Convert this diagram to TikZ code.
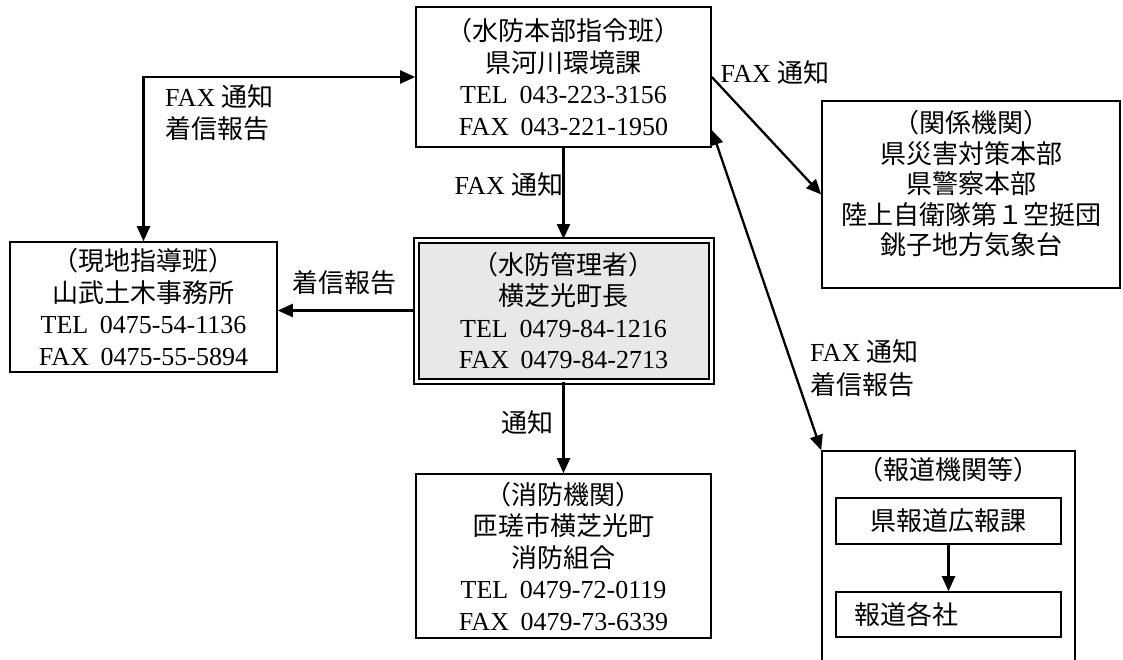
\documentclass[tikz,border=0pt]{standalone}
\usepackage{fontspec}
\setmainfont{Liberation Serif}
\newfontfamily\cjk{Noto Sans CJK JP}
\newcommand{\J}[1]{{\cjk #1}}
\newcommand{\tsp}{\hspace{0.45em}}
\usetikzlibrary{arrows.meta}
\begin{document}
\begin{tikzpicture}[x=1pt,y=-1pt,
  every node/.style={font=\fontsize{26pt}{31.5pt}\selectfont, inner sep=0pt},
  boxn/.style={draw, line width=1.6pt, align=center},
  arr/.style={line width=2.3pt, -{Triangle[length=15pt,width=13pt]}},
  darr/.style={line width=2.3pt, {Triangle[length=15pt,width=13pt]}-{Triangle[length=15pt,width=13pt]}},
  lbl/.style={align=left}]
\useasboundingbox (0,0) rectangle (1123,659);
\clip (0,0) rectangle (1123,659);

% top box
\node[boxn, minimum width=295pt, minimum height=140pt] (top) at (563.5,77)
  {\J{（水防本部指令班）}\\ \J{県河川環境課}\\ TEL\tsp 043-223-3156\\ FAX\tsp 043-221-1950};

% left box
\node[boxn, minimum width=267pt, minimum height=130pt] (left) at (143.5,307)
  {\J{（現地指導班）}\\ \J{山武土木事務所}\\ TEL\tsp 0475-54-1136\\ FAX\tsp 0475-55-5894};

% center double box
\node[draw, line width=2pt, double=white, double distance=3pt, fill=black!9,
      align=center, minimum width=295pt, minimum height=141pt] (center) at (563.5,310.5)
  {\J{（水防管理者）}\\ \J{横芝光町長}\\ TEL\tsp 0479-84-1216\\ FAX\tsp 0479-84-2713};

% bottom box
\node[boxn, minimum width=295pt, minimum height=164pt] (bottom) at (563.5,556)
  {\J{（消防機関）}\\ \J{匝瑳市横芝光町}\\ \J{消防組合}\\ TEL\tsp 0479-72-0119\\ FAX\tsp 0479-73-6339};

% kankei box
\node[boxn, minimum width=298pt, minimum height=187pt] (kankei) at (971,194.5) {};
\node[align=center, font=\fontsize{26pt}{30.5pt}\selectfont] (kankeit) at (971,184)
  {\J{（関係機関）}\\ \J{県災害対策本部}\\ \J{県警察本部}\\ \J{陸上自衛隊第１空挺団}\\ \J{銚子地方気象台}};

% hodo box
\node[boxn, minimum width=253pt, minimum height=260pt] (hodo) at (948.5,581) {};
\node (hodot) at (948,470) {\J{（報道機関等）}};
\node[boxn, minimum width=225pt, minimum height=46pt] (kenho) at (948.5,521) {\J{県報道広報課}};
\node[draw, line width=1.6pt, text width=189pt, align=left, inner xsep=18pt,
      minimum height=45pt] (kakusha) at (948.5,614.5) {\J{報道各社}};

% connectors
\draw[darr] (left.north) |- (top.west);
\draw[arr] (top.south) -- (center.north);
\draw[arr] (center.west) -- (center.west -| left.east);
\draw[arr] (center.south) -- (bottom.north);
\draw[arr] (top.east) -- (kankei.west);
\draw[darr] ([yshift=-53pt]top.east) -- (hodo.north west);
\draw[arr] (kenho.south) -- (kakusha.north);

% labels
\node[lbl, anchor=west] (l1) at (165,112.5) {FAX\ \J{通知}\\ \J{着信報告}};
\node (l2) at (509,185) {FAX\ \J{通知}};
\node (l3) at (344,283) {\J{着信報告}};
\node (l4) at (527.5,423) {\J{通知}};
\node (l5) at (775,73) {FAX\ \J{通知}};
\node[lbl, anchor=west, font=\fontsize{26pt}{33pt}\selectfont] (l6) at (810,368.5) {FAX\ \J{通知}\\ \J{着信報告}};
\end{tikzpicture}
\end{document}
